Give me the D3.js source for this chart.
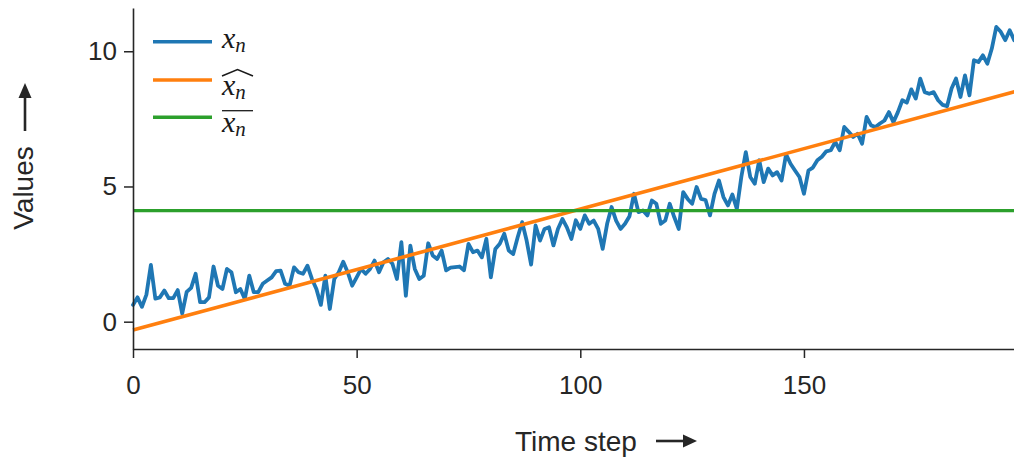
<!DOCTYPE html>
<html><head><meta charset="utf-8">
<script src="https://cdn.jsdelivr.net/npm/d3@7"></script>
<style>html,body{margin:0;padding:0;background:#fff;} svg{display:block;}</style>
</head><body>
<script>
// ---- data ----
const seriesValues = [
  0.62, 0.9, 0.55, 1.0, 2.1, 0.85, 0.9, 1.15, 0.87, 0.87,
  1.17, 0.3, 1.1, 1.25, 1.77, 0.72, 0.72, 0.9, 2.04, 1.33,
  1.21, 1.95, 1.83, 1.09, 1.21, 0.84, 1.7, 1.09, 1.09, 1.4,
  1.52, 1.64, 1.87, 1.89, 1.4, 1.33, 2.01, 1.83, 1.77, 2.07,
  1.58, 1.21, 0.62, 1.7, 0.47, 1.58, 1.83, 2.22, 1.83, 1.33,
  1.64, 1.95, 1.77, 1.95, 2.26, 1.83, 2.2, 2.32, 2.14, 1.58,
  2.94, 0.96, 2.81, 1.95, 1.58, 1.7, 2.9, 2.45, 2.32, 2.63,
  1.9, 2.0, 2.02, 2.04, 1.9, 2.88, 2.57, 2.63, 2.38, 3.06,
  1.64, 2.69, 2.88, 3.25, 2.63, 2.5, 3.12, 3.68, 3.0, 2.11,
  3.56, 3.0, 3.43, 3.49, 2.82, 3.43, 3.8, 3.49, 3.06, 3.75,
  3.43, 3.93, 3.62, 3.74, 3.43, 2.69, 3.62, 4.24, 3.74, 3.43,
  3.62, 3.9, 4.73, 4.05, 4.11, 3.93, 4.48, 4.36, 3.62, 3.74,
  4.36, 3.87, 3.43, 4.79, 4.54, 4.36, 4.98, 4.54, 4.5, 3.93,
  4.73, 5.22, 4.61, 4.3, 4.7, 4.17, 5.35, 6.27, 5.35, 5.1,
  5.97, 5.16, 5.66, 5.41, 5.53, 5.22, 6.19, 5.84, 5.59, 5.35,
  4.73, 5.59, 5.7, 5.97, 6.1, 6.3, 6.34, 6.65, 6.34, 7.2,
  7.02, 6.83, 6.95, 6.58, 7.57, 7.26, 7.2, 7.33, 7.44, 7.75,
  7.38, 7.75, 8.19, 8.1, 8.59, 8.25, 8.99, 8.49, 8.43, 8.49,
  8.19, 8.02, 7.97, 8.62, 8.99, 8.31, 9.11, 8.37, 9.67, 9.6,
  9.85, 9.54, 10.1, 10.9, 10.72, 10.41, 10.78, 10.41, 10.6, 10.8
];
const fitSteps = [0, 199];
const fitValues = [-0.31, 8.59];
const meanValue = 4.11;
const xTickValues = [0, 50, 100, 150];
const yTickValues = [0, 5, 10];
const legendKeys = ["raw", "fit", "mean"];
const xLabel = "Time step";
const yLabel = "Values";

// ---- layout ----
const W = 1014, H = 457;
const colors = {raw: "#1f77b4", fit: "#ff7f0e", mean: "#2ca02c"};
const axisColor = "#262626";

const svg = d3.select("body").append("svg").attr("width", W).attr("height", H);
svg.append("rect").attr("width", W).attr("height", H).attr("fill", "#fff");

const x = d3.scaleLinear().domain([0, 199]).range([133, 133 + 199 * 4.473]);
const y = d3.scaleLinear().domain([-1.01, 11.6]).range([349, 8]);

const plot = svg.append("g");

// raw series
const rawLine = d3.line().x((d, i) => x(i)).y(d => y(d));
plot.append("path").datum(seriesValues)
  .attr("d", rawLine).attr("fill", "none")
  .attr("stroke", colors.raw).attr("stroke-width", 3.8)
  .attr("stroke-linejoin", "round").attr("stroke-linecap", "round");

// fitted line
const fitLine = d3.line().x(d => x(d[0])).y(d => y(d[1]));
plot.append("path").datum(d3.zip(fitSteps, fitValues))
  .attr("d", fitLine).attr("fill", "none")
  .attr("stroke", colors.fit).attr("stroke-width", 3.6);

// mean line
plot.append("path").datum([[0, meanValue], [199, meanValue]])
  .attr("d", fitLine).attr("fill", "none")
  .attr("stroke", colors.mean).attr("stroke-width", 3.2);

// ---- axes ----
const xAxis = svg.append("g")
  .attr("transform", `translate(0,${y(-1.01)})`)
  .call(d3.axisBottom(x).tickValues(xTickValues).tickSizeInner(9).tickSizeOuter(0)
        .tickPadding(18).tickFormat(d3.format("d")));
const yAxis = svg.append("g")
  .attr("transform", `translate(${x(0)},0)`)
  .call(d3.axisLeft(y).tickValues(yTickValues).tickSizeInner(9).tickSizeOuter(0)
        .tickPadding(7).tickFormat(d3.format("d")));

[xAxis, yAxis].forEach(g => {
  g.select(".domain").attr("stroke", axisColor).attr("stroke-width", 1.6);
  g.selectAll(".tick line").attr("stroke", axisColor).attr("stroke-width", 1.5);
  g.selectAll(".tick text")
    .attr("fill", axisColor)
    .style("font-family", "'Liberation Sans', Arial, sans-serif")
    .style("font-size", "26px");
});

// axis labels with arrows
svg.append("text")
  .attr("x", 515).attr("y", 451)
  .attr("text-anchor", "start")
  .attr("fill", axisColor)
  .style("font-family", "'Liberation Sans', Arial, sans-serif")
  .style("font-size", "28px")
  .text(xLabel);
svg.append("line").attr("x1", 656).attr("x2", 686).attr("y1", 441).attr("y2", 441)
  .attr("stroke", axisColor).attr("stroke-width", 2.6);
svg.append("path").attr("d", "M697,441 L683,434.5 L683,447.5 Z").attr("fill", axisColor);

svg.append("text")
  .attr("transform", "translate(33,188) rotate(-90)")
  .attr("text-anchor", "middle")
  .attr("fill", axisColor)
  .style("font-family", "'Liberation Sans', Arial, sans-serif")
  .style("font-size", "28px")
  .text(yLabel);
svg.append("line").attr("x1", 25).attr("x2", 25).attr("y1", 131).attr("y2", 96)
  .attr("stroke", axisColor).attr("stroke-width", 2.6);
svg.append("path").attr("d", "M25,83 L18.5,98 L31.5,98 Z").attr("fill", axisColor);

// ---- legend ----
const legendY = [41.7, 80, 117.3];
const labelBase = [48, 95, 131.7];
const leg = svg.append("g");
legendKeys.forEach((k, i) => {
  leg.append("line").attr("x1", 153).attr("x2", 212)
    .attr("y1", legendY[i]).attr("y2", legendY[i])
    .attr("stroke", colors[k]).attr("stroke-width", 3.6);
  const t = leg.append("text")
    .attr("x", 222).attr("y", labelBase[i])
    .attr("fill", "#1a1a1a")
    .style("font-family", "'Liberation Serif', 'DejaVu Serif', serif")
    .style("font-style", "italic")
    .style("font-size", "30px");
  t.append("tspan").text("x");
  t.append("tspan").attr("dy", 4).style("font-size", "21px").text("n");
  if (k === "fit") {
    leg.append("path").attr("d", `M222,${labelBase[i] - 19} L237.5,${labelBase[i] - 25.5} L253,${labelBase[i] - 19}`)
      .attr("fill", "none").attr("stroke", "#1a1a1a").attr("stroke-width", 1.5);
  }
  if (k === "mean") {
    leg.append("line").attr("x1", 222).attr("x2", 253)
      .attr("y1", labelBase[i] - 21).attr("y2", labelBase[i] - 21)
      .attr("stroke", "#1a1a1a").attr("stroke-width", 1.3);
  }
});
</script>
</body></html>
